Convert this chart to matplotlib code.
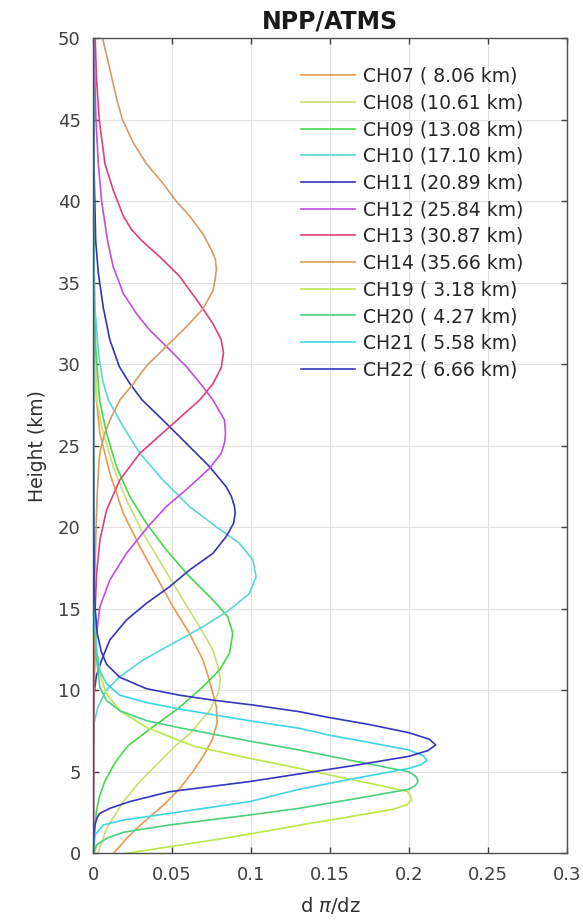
import matplotlib
matplotlib.use("Agg")
import matplotlib.pyplot as plt

# Weighting functions: height (km) vs d(pi)/dz
ch07_h = [0, 1.1, 2.0, 3.0, 4.0, 5.0, 6.0, 7.0, 8.0, 9.0, 9.81, 10.8, 11.86, 13.49, 15.13,
          16.97, 18.81, 20.86, 23.31, 25.77, 27.8, 31, 35, 40, 50]
ch07_v = [0.0128, 0.023, 0.033, 0.045, 0.055, 0.063, 0.070, 0.0755, 0.0785, 0.078, 0.0758,
          0.073, 0.0695, 0.061, 0.0505, 0.040, 0.0295, 0.019, 0.0105, 0.0042, 0.002, 0.001,
          0.0004, 0.0001, 0]

ch08_h = [0, 1.53, 3.17, 4.4, 5.42, 6.65, 7.32, 8.75, 9.8, 10.22, 10.7, 11.45, 12.47, 13.9,
          15.54, 17.59, 19.63, 21.68, 23.72, 25.77, 27.81, 31, 35, 40, 50]
ch08_v = [0.003, 0.0084, 0.019, 0.0295, 0.040, 0.0526, 0.061, 0.0737, 0.079, 0.080, 0.0805,
          0.079, 0.0758, 0.0674, 0.0569, 0.0442, 0.0316, 0.021, 0.0126, 0.0063, 0.0021, 0.001,
          0.0004, 0.0001, 0]

ch09_h = [0, 1.5, 2.6, 3.5, 4.4, 5.6, 6.6, 7.7, 8.9, 10.22, 11.25, 12.27, 13.49, 14.52, 15.54,
          16.97, 18.61, 20.24, 21.88, 23.72, 25.77, 27.81, 31, 35, 40, 50]
ch09_v = [0.0005, 0.001, 0.002, 0.004, 0.0072, 0.014, 0.022, 0.037, 0.054, 0.0695, 0.080,
          0.0863, 0.0884, 0.0853, 0.0758, 0.061, 0.0463, 0.0337, 0.0232, 0.0147, 0.0084, 0.004,
          0.0015, 0.0006, 0.0002, 0]

ch10_h = [0, 6, 8, 9.0, 10.02, 10.84, 11.86, 12.88, 13.9, 14.93, 15.95, 16.97, 18.0, 19.02,
          20.04, 21.27, 22.9, 24.54, 26.17, 27.81, 29.0, 30.5, 33.5, 38, 50]
ch10_v = [0, 0.0001, 0.0005, 0.003, 0.0084, 0.0168, 0.0316, 0.0505, 0.0695, 0.0863, 0.099,
          0.1032, 0.1011, 0.0926, 0.0779, 0.061, 0.0442, 0.0295, 0.019, 0.0095, 0.006, 0.0035,
          0.001, 0.0002, 0]

ch11_h = [0, 8, 9.8, 10.9, 11.86, 13.09, 14.31, 15.34, 16.36, 17.38, 18.4, 19.43, 20.24, 20.86,
          21.27, 21.9, 22.49, 23.72, 24.95, 26.17, 27.81, 28.84, 29.86, 31.5, 33.5, 35.6, 37.6,
          42, 50]
ch11_v = [0, 0.0001, 0.0005, 0.002, 0.0053, 0.0105, 0.021, 0.0337, 0.0484, 0.061, 0.0758,
          0.0842, 0.0889, 0.0899, 0.0895, 0.0875, 0.0842, 0.0737, 0.061, 0.0484, 0.031, 0.023,
          0.0165, 0.0105, 0.0063, 0.0032, 0.0015, 0.0005, 0]

ch12_h = [0, 8, 12.2, 13.5, 15.13, 16.77, 18.4, 20.04, 21.27, 22.49, 23.62, 24.54, 25.2, 25.77,
          26.58, 27.81, 28.63, 29.86, 31.1, 32.1, 33.1, 34.35, 36.0, 37.6, 40.0, 42.3, 45.0,
          47.4, 50]
ch12_v = [0, 0.0002, 0.001, 0.0021, 0.0042, 0.0105, 0.021, 0.0347, 0.0463, 0.061, 0.0737,
          0.0811, 0.0832, 0.0838, 0.0832, 0.0758, 0.0695, 0.059, 0.0463, 0.0358, 0.0274, 0.019,
          0.0126, 0.009, 0.0053, 0.0032, 0.0017, 0.001, 0.0004]

ch13_h = [0, 10, 14, 17.18, 19.22, 21.06, 22.9, 24.54, 26.17, 27.81, 28.8, 29.8, 30.7, 31.5,
          32.5, 33.7, 35.4, 36.6, 37.6, 38.3, 39.1, 40.7, 42.3, 45.0, 47.4, 50]
ch13_v = [0, 0.0002, 0.0008, 0.0021, 0.0042, 0.0084, 0.0168, 0.0295, 0.0484, 0.0674, 0.0758,
          0.0811, 0.0825, 0.0811, 0.0758, 0.0674, 0.0547, 0.0421, 0.0305, 0.024, 0.019, 0.0126,
          0.0074, 0.0038, 0.0021, 0.0012]

ch14_h = [0, 10, 14, 17, 20, 22, 24, 24.8, 25.8, 26.8, 27.8, 28.8, 29.9, 31.1, 32.3, 33.4, 34.5,
          35.2, 35.8, 36.4, 37.0, 38.0, 39.1, 40.0, 41.1, 42.3, 43.6, 45.0, 46.2, 47.4, 50]
ch14_v = [0, 0.0002, 0.0005, 0.001, 0.0018, 0.0025, 0.0036, 0.0046, 0.0074, 0.0116, 0.0168,
          0.0253, 0.0337, 0.0463, 0.059, 0.0695, 0.0758, 0.0772, 0.078, 0.0775, 0.075, 0.0695,
          0.061, 0.0526, 0.0442, 0.0337, 0.0253, 0.0185, 0.0150, 0.0122, 0.0059]

ch19_h = [0, 0.4, 0.95, 1.4, 1.8, 2.3, 2.7, 3.0, 3.27, 3.55, 3.8, 4.3, 4.8, 5.21, 5.83, 6.54,
          6.91, 7.73, 8.75, 9.78, 11.0, 12.5, 15, 20, 30, 50]
ch19_v = [0.021, 0.048, 0.085, 0.112, 0.135, 0.166, 0.19, 0.199, 0.2018, 0.2008, 0.199, 0.175,
          0.15, 0.1305, 0.099, 0.065, 0.0547, 0.0337, 0.0168, 0.0084, 0.0042, 0.002, 0.001,
          0.0003, 0.0001, 0]

ch20_h = [0, 0.5, 0.92, 1.29, 1.74, 2.35, 2.76, 3.35, 3.93, 4.15, 4.4, 4.7, 5.0, 5.65, 6.34,
          6.85, 7.7, 8.14, 8.75, 9.37, 10.18, 12, 14, 20, 50]
ch20_v = [0.0005, 0.002, 0.0084, 0.019, 0.0484, 0.099, 0.1305, 0.166, 0.2, 0.204, 0.2059,
          0.2045, 0.2, 0.166, 0.1305, 0.101, 0.0547, 0.0337, 0.0168, 0.0084, 0.0042, 0.002,
          0.001, 0.0002, 0]

ch21_h = [0, 0.6, 1.12, 1.74, 2.04, 2.45, 3.17, 3.93, 4.6, 5.21, 5.45, 5.7, 6.0, 6.34, 6.8,
          7.25, 7.67, 8.1, 8.85, 9.25, 9.7, 10.4, 11.2, 12.5, 14, 17, 25, 50]
ch21_v = [0, 0.0003, 0.001, 0.0063, 0.019, 0.0484, 0.099, 0.1305, 0.166, 0.2, 0.208, 0.2115,
          0.209, 0.2, 0.175, 0.1495, 0.1305, 0.101, 0.0547, 0.0337, 0.0168, 0.0084, 0.0042,
          0.002, 0.001, 0.0004, 0.0001, 0]

ch22_h = [0, 1.0, 1.74, 2.2, 2.45, 2.76, 3.17, 3.78, 4.40, 4.87, 5.4, 5.95, 6.3, 6.65, 7.0, 7.4,
          7.9, 8.33, 8.69, 9.1, 9.4, 9.7, 10.1, 10.8, 11.6, 12.4, 13.5, 15, 17, 20, 25, 50]
ch22_v = [0, 0.0003, 0.001, 0.0025, 0.0042, 0.0105, 0.023, 0.0484, 0.099, 0.1305, 0.166, 0.2,
          0.212, 0.217, 0.213, 0.2, 0.175, 0.1495, 0.1305, 0.101, 0.0758, 0.0547, 0.0337,
          0.0168, 0.0084, 0.005, 0.0025, 0.0012, 0.0006, 0.0003, 0.0001, 0]

labels = ["CH07 ( 8.06 km)", "CH08 (10.61 km)", "CH09 (13.08 km)", "CH10 (17.10 km)",
          "CH11 (20.89 km)", "CH12 (25.84 km)", "CH13 (30.87 km)", "CH14 (35.66 km)",
          "CH19 ( 3.18 km)", "CH20 ( 4.27 km)", "CH21 ( 5.58 km)", "CH22 ( 6.66 km)"]
heights = [ch07_h, ch08_h, ch09_h, ch10_h, ch11_h, ch12_h, ch13_h, ch14_h,
           ch19_h, ch20_h, ch21_h, ch22_h]
values = [ch07_v, ch08_v, ch09_v, ch10_v, ch11_v, ch12_v, ch13_v, ch14_v,
          ch19_v, ch20_v, ch21_v, ch22_v]
colors = ["#e89a52", "#c8e070", "#46d84a", "#5ad6d6", "#3434b4", "#c24ee0",
          "#e0407a", "#d89a62", "#bce64e", "#4cd07a", "#3ed4e6", "#3636c0"]

fig = plt.figure(figsize=(5.83, 9.23), dpi=100)
ax = fig.add_axes([0.160, 0.0755, 0.812, 0.883])

for h, v, c, lbl in zip(heights, values, colors, labels):
    ax.plot(v, h, color=c, lw=1.2, label=lbl)

ax.set_xlim(0, 0.3)
ax.set_ylim(0, 50)
ax.set_xticks([0, 0.05, 0.1, 0.15, 0.2, 0.25, 0.3])
ax.set_xticklabels(["0", "0.05", "0.1", "0.15", "0.2", "0.25", "0.3"])
ax.set_yticks(range(0, 51, 5))
ax.grid(True, color="#e2e2e2", lw=0.8)
ax.set_axisbelow(True)
ax.tick_params(direction="in", top=True, right=True, length=4, width=1,
               colors="#404040", labelsize=13, pad=9)
for s in ax.spines.values():
    s.set_color("#505050")
    s.set_linewidth(1.0)

ax.set_title("NPP/ATMS", fontsize=17, fontweight="bold", pad=7, color="#1a1a1a")
ax.set_xlabel(r"d $\pi$/dz", fontsize=14, color="#303030", labelpad=8)
ax.set_ylabel("Height (km)", fontsize=13.5, color="#303030", labelpad=8)

ax.legend(loc="upper left", bbox_to_anchor=(0.4385, 0.965), frameon=False,
          fontsize=13.5, handlelength=2.9, handletextpad=0.4, labelspacing=0.41,
          borderaxespad=0, borderpad=0, labelcolor="#262626")

fig.savefig("out.png", dpi=100)
